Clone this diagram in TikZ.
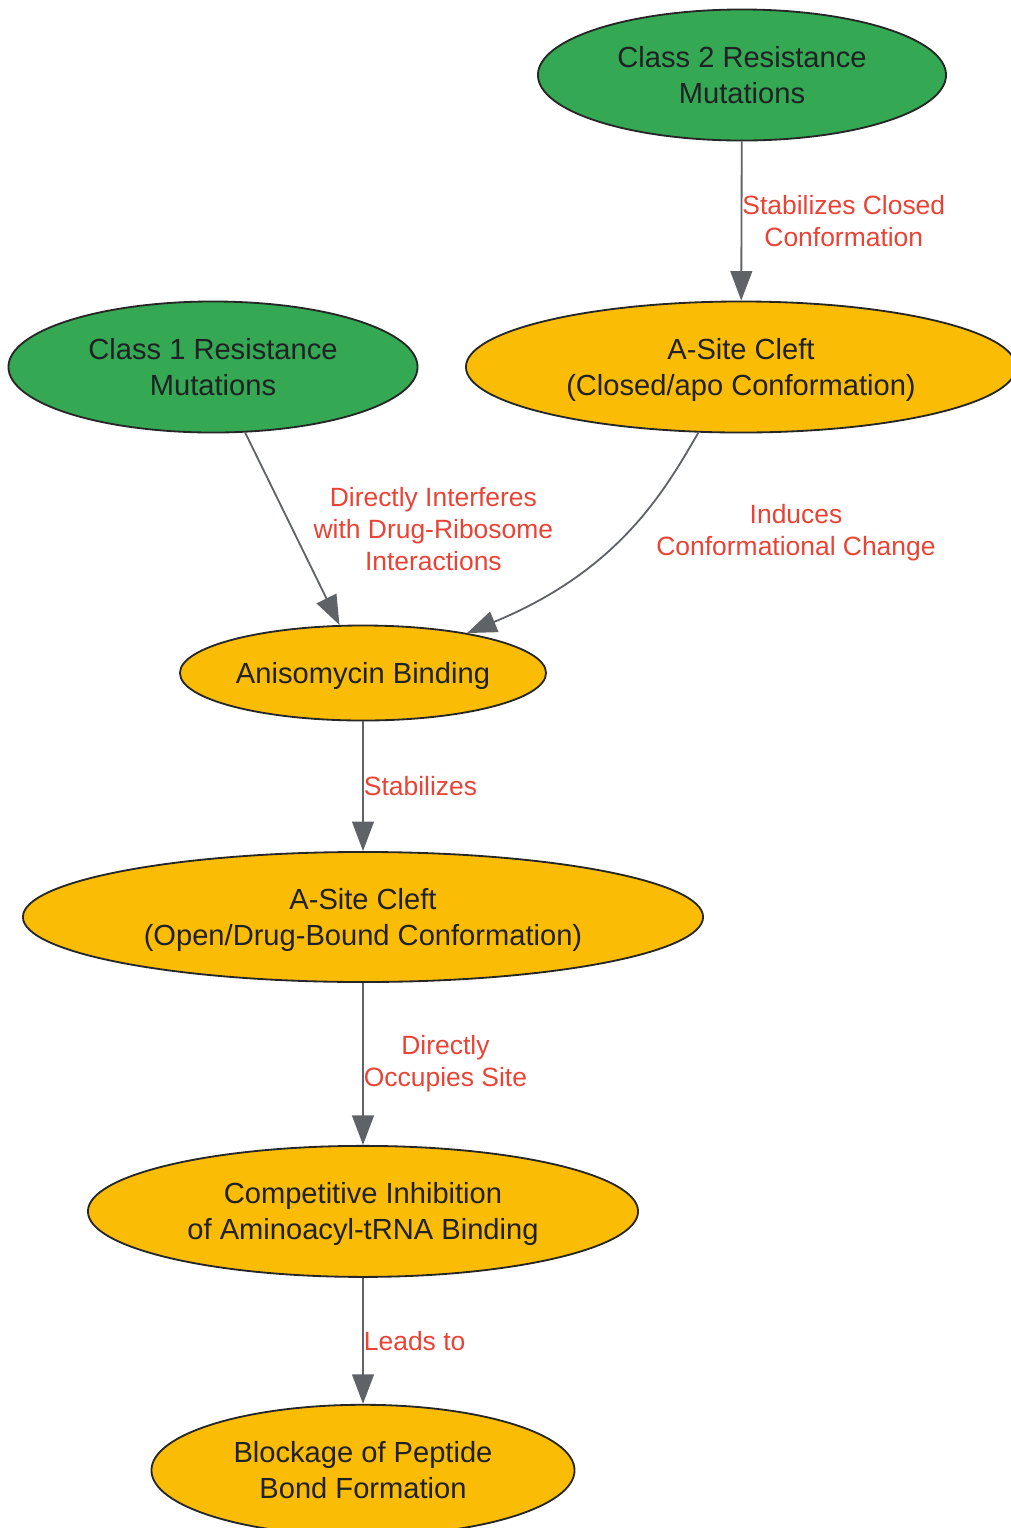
\documentclass[tikz,border=0pt]{standalone}
\usepackage{fontspec}
\setmainfont{Liberation Sans}
\usetikzlibrary{shapes,arrows.meta,positioning,calc}
\definecolor{mutgreen}{HTML}{34A853}
\definecolor{stepyellow}{HTML}{FBBC05}
\definecolor{edgered}{HTML}{EA4335}
\definecolor{arrowgray}{HTML}{5F6368}
\definecolor{textdark}{HTML}{202124}
\tikzstyle{mutation} = [ellipse, draw=black!85, line width=1.3pt, fill=mutgreen, text=textdark, align=center, inner sep=0pt, text depth=0pt, minimum width=10.2cm, minimum height=3.275cm, font=\fontsize{20.7}{25.6}\selectfont]
\tikzstyle{process} = [mutation, fill=stepyellow]
\tikzstyle{edgetext} = [text=edgered, align=center, inner sep=0pt, font=\fontsize{18.8}{22.8}\selectfont]
\tikzstyle{link} = [->, draw=arrowgray, line width=1.3pt]

\begin{document}
\begin{tikzpicture}[x=0.025cm, y=-0.025cm, >={Triangle[length=21pt,width=15.5pt]}]
    \useasboundingbox (0,0) rectangle (1011,1528);
    \node[mutation] (class2) at (742,75) {Class 2 Resistance\\Mutations};
    \node[process, minimum width=13.75cm] (closed) at (741,367) {A-Site Cleft\\(Closed/apo Conformation)};
    \node[mutation, minimum width=10.225cm] (class1) at (213,367) {Class 1 Resistance\\Mutations};
    \node[process, minimum width=9.15cm, minimum height=2.375cm] (anis) at (363,673) {Anisomycin Binding};
    \node[process, minimum width=17cm, minimum height=3.25cm, below=3.24cm of anis] (open) {A-Site Cleft\\(Open/Drug-Bound Conformation)};
    \node[process, minimum width=13.75cm, below=4.05cm of open] (compet) {Competitive Inhibition\\of Aminoacyl-tRNA Binding};
    \node[process, minimum width=10.575cm, below=3.15cm of compet] (block) {Blockage of Peptide\\Bond Formation};

    \draw[link] (class2) -- node[edgetext, right] (lblclosed) {Stabilizes Closed\\Conformation} (closed);
    \draw[link] (class1) -- node[edgetext, right=0.51cm] (lbldirect) {Directly Interferes\\with Drug-Ribosome\\Interactions} (anis);
    \draw[link] (closed.237) .. controls (665,490) and (620,570) .. (anis.21);
    \node[edgetext] (lblinduce) at (796,533) {Induces\\Conformational Change};
    \draw[link] (anis) -- node[edgetext, right] (lblstab) {Stabilizes} (open);
    \draw[link] (open) -- node[edgetext, right] (lbloccupy) {Directly\\Occupies Site} (compet);
    \draw[link] (compet) -- node[edgetext, right] (lbllead) {Leads to} (block);
\end{tikzpicture}
\end{document}
